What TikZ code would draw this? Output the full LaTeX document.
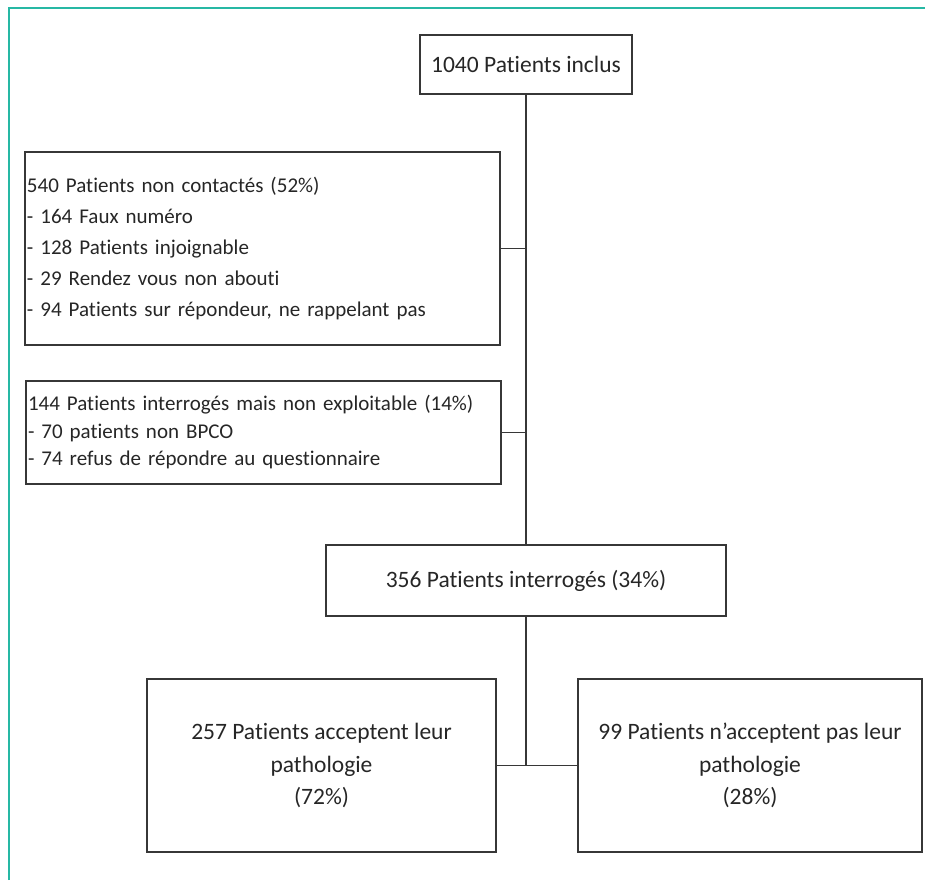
\documentclass[tikz,border=0pt]{standalone}
\usepackage{fontspec}
\setmainfont{Carlito}[Ligatures=NoCommon, RawFeature=-calt, RawFeature=-clig]
\usetikzlibrary{positioning}
\definecolor{frameteal}{RGB}{38,184,164}
\definecolor{boxline}{RGB}{55,55,55}
\tikzstyle{mainbox} = [rectangle, draw=boxline, line width=1.4pt, text=black!85, font=\fontsize{23.5}{32.5}\selectfont, align=center]
\tikzstyle{listbox} = [rectangle, draw=boxline, line width=1.4pt, text=black!85, font=\fontsize{21}{31}\selectfont, align=left, inner xsep=2pt, text width=471pt]
\tikzstyle{line} = [draw=boxline, line width=1.3pt]

\begin{document}
\begin{tikzpicture}[x=1pt, y=-1pt]
	\useasboundingbox (0,0) rectangle (925,880);
	\draw [frameteal, line width=2pt] (9,880) -- (9,8) -- (925,8);
	\node (incl) [mainbox, minimum width=212pt, minimum height=59pt] at (526,64.5) {1040 Patients inclus};
	\node (noncont) [listbox, minimum height=193pt] at (262.5,248.5) {540 Patients non contactés (52\%)\\- 164 Faux numéro\\- 128 Patients injoignable\\- 29 Rendez vous non abouti\\- 94 Patients sur répondeur, ne rappelant pas};
	\node (nonexp) [listbox, minimum height=103pt, font=\fontsize{21}{27.5}\selectfont] at (263.5,432.5) {144 Patients interrogés mais non exploitable (14\%)\\- 70 patients non BPCO\\- 74 refus de répondre au questionnaire};
	\node (interro) [mainbox, minimum width=400pt, minimum height=71pt] at (526,580.5) {356 Patients interrogés (34\%)};
	\node (accept) [mainbox, minimum width=349pt, minimum height=173pt] at (321.5,765.5) {257 Patients acceptent leur\\pathologie\\(72\%)};
	\node (refus) [mainbox, minimum width=344pt, minimum height=173pt] at (750,765.5) {99 Patients n’acceptent pas leur\\pathologie\\(28\%)};
	\draw [line] (incl.south) -- (interro.north);
	\draw [line] (noncont.east) -- (noncont.east -| incl.south);
	\draw [line] (nonexp.east) -- (nonexp.east -| incl.south);
	\draw [line] (interro.south) -- (interro.south |- accept.east);
	\draw [line] (accept.east) -- (refus.west);
\end{tikzpicture}
\end{document}
